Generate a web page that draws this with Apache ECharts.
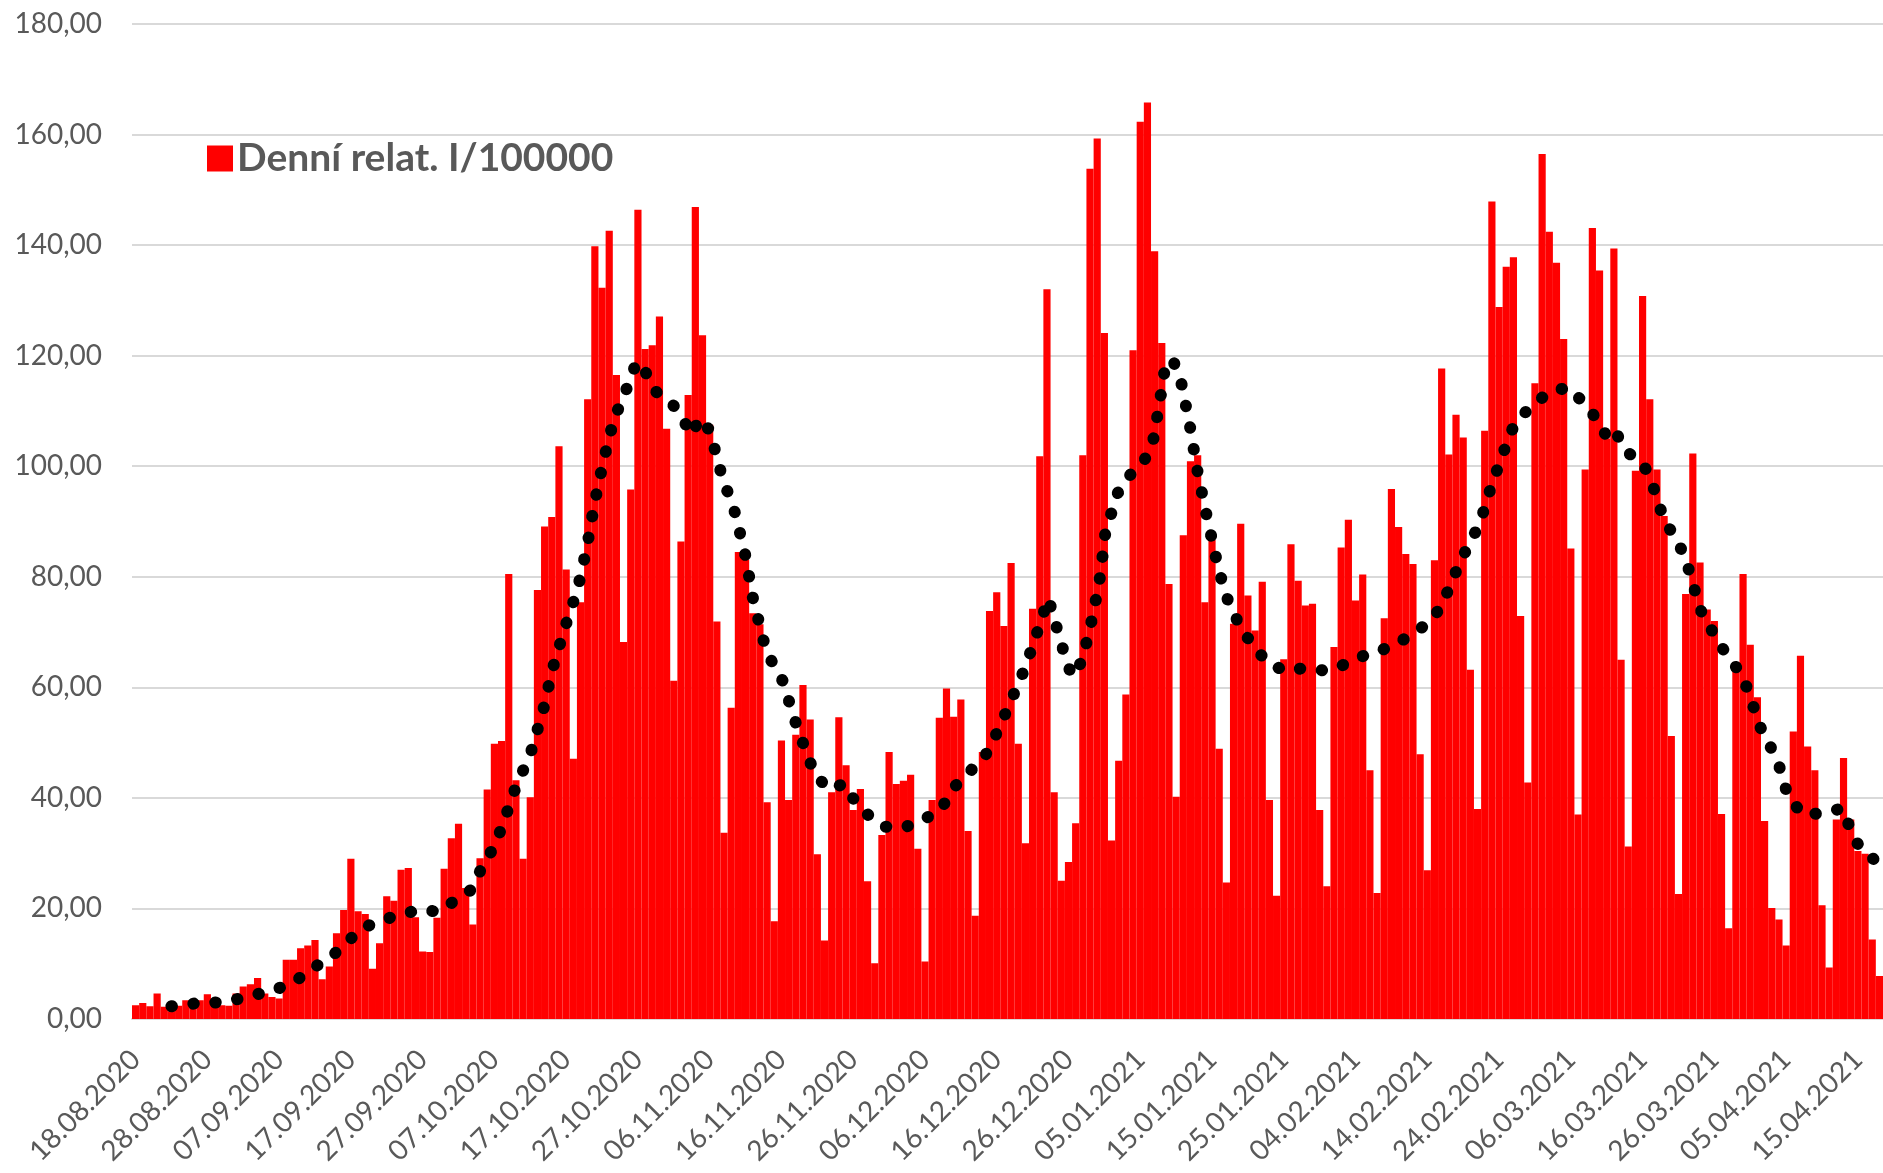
<!DOCTYPE html>
<html>
  <head>
    <meta charset="utf-8" />
    <title>Denní relat. I/100000</title>
    <script src="https://cdn.jsdelivr.net/npm/echarts@6/dist/echarts.min.js"></script>
    <style>
      html, body { margin: 0; padding: 0; background: #fff; }
    </style>
  </head>
  <body>
    <div id="main" style="width: 1883px;height:1173px;"></div>
    <script type="text/javascript">
      // denní hodnoty od 18.08.2020, jedna hodnota na den
      var dailyValues = [
        2.5, 2.9, 2.3, 4.6, 2.2, 1.4, 2.4, 3.4, 3.4, 3.4,
        4.5, 3.6, 2.5, 2.4, 4.6, 5.9, 6.3, 7.4, 4.6, 4.0,
        3.7, 10.7, 10.7, 12.8, 13.3, 14.3, 7.2, 9.5, 15.5, 19.7,
        29.0, 19.5, 19.0, 9.1, 13.7, 22.2, 21.4, 27.0, 27.3, 18.4,
        12.2, 12.1, 18.3, 27.2, 32.7, 35.3, 23.7, 17.1, 29.1, 41.5,
        49.8, 50.3, 80.5, 43.2, 29.0, 40.1, 77.6, 89.1, 90.8, 103.6,
        81.3, 47.1, 75.4, 112.1, 139.8, 132.3, 142.6, 116.5, 68.2, 95.8,
        146.4, 121.2, 121.9, 127.1, 106.8, 61.2, 86.4, 112.9, 146.9, 123.7,
        107.5, 71.9, 33.7, 56.3, 84.5, 83.1, 73.4, 71.4, 39.2, 17.7,
        50.4, 39.6, 51.4, 60.4, 54.2, 29.8, 14.2, 41.0, 54.6, 45.9,
        37.8, 41.6, 24.9, 10.1, 33.3, 48.3, 42.5, 43.1, 44.2, 30.8,
        10.4, 39.6, 54.5, 59.8, 54.7, 57.8, 34.0, 18.7, 48.3, 73.8,
        77.2, 71.1, 82.5, 49.8, 31.8, 74.2, 101.8, 132.0, 41.0, 25.0,
        28.4, 35.4, 102.0, 153.8, 159.3, 124.1, 32.3, 46.7, 58.7, 121.0,
        162.3, 165.8, 138.9, 122.3, 78.7, 40.2, 87.5, 100.9, 102.0, 75.4,
        86.7, 48.9, 24.7, 71.5, 89.6, 76.6, 70.3, 79.1, 39.6, 22.3,
        65.1, 85.9, 79.3, 74.8, 75.1, 37.8, 24.0, 67.3, 85.3, 90.3,
        75.7, 80.4, 45.0, 22.8, 72.5, 95.9, 89.0, 84.1, 82.3, 47.9,
        26.9, 83.0, 117.7, 102.1, 109.3, 105.2, 63.2, 38.0, 106.4, 147.9,
        128.8, 136.1, 137.8, 72.9, 42.8, 115.0, 156.5, 142.4, 136.8, 123.0,
        85.1, 37.0, 99.4, 143.1, 135.4, 105.0, 139.4, 65.0, 31.2, 99.2,
        130.8, 112.1, 99.4, 91.0, 51.2, 22.6, 76.9, 102.3, 82.6, 74.1,
        72.0, 37.1, 16.4, 64.5, 80.5, 67.7, 58.2, 35.8, 20.1, 18.0,
        13.3, 52.0, 65.7, 49.3, 45.0, 20.6, 9.3, 36.1, 47.2, 36.1,
        30.4, 29.9, 14.4, 7.8
      ];

      // klouzavý průměr - body (pozice = index dne)
      var trendDay = [
        5.0, 8.2, 11.2, 14.2, 17.0, 19.5, 22.4, 24.7, 27.2, 29.4,
        31.4, 34.1, 36.7, 39.6, 42.2, 44.6, 46.9, 48.2, 49.6, 50.9,
        52.8, 55.1, 56.8, 58.1, 59.8, 61.6, 62.9, 63.9, 65.1, 66.6,
        68.8, 69.8, 71.0, 72.3, 74.8, 76.3, 77.6, 78.5, 80.0, 81.6,
        83.6, 85.0, 86.0, 87.5, 88.6, 90.2, 91.8, 93.7, 94.8, 96.8,
        98.7, 99.8, 101.8, 104.3, 107.0, 109.5, 112.2, 113.7, 115.5, 117.9,
        119.4, 121.7, 124.0, 125.7, 127.2, 128.0, 129.7, 130.5, 131.9, 133.4,
        134.4, 135.1, 136.7, 138.1, 140.4, 141.7, 142.7, 143.6, 144.7, 145.7,
        146.9, 147.9, 149.1, 150.4, 151.8, 154.1, 157.6, 160.1, 163.0, 165.8,
        168.4, 171.1, 173.6, 176.5, 178.6, 180.8, 182.3, 184.6, 187.3, 189.0,
        191.0, 192.2, 194.0, 196.2, 198.0, 200.0, 201.8, 203.8, 205.2, 206.3,
        207.7, 209.9, 211.2, 213.0, 214.5, 215.9, 217.5, 218.4, 219.9, 221.5,
        223.4, 224.6, 226.4, 227.8, 228.9, 229.6, 230.6, 232.4, 234.8, 236.6,
        238.0, 238.8, 240.2, 242.4
      ];
      var trendValue = [
        2.3, 2.8, 3.0, 3.6, 4.5, 5.3, 7.0, 9.2, 11.2, 13.8,
        16.3, 17.8, 18.8, 19.8, 19.4, 21.5, 23.5, 27.3, 30.4, 34.2,
        41.3, 48.3, 55.9, 63.3, 70.7, 77.8, 85.4, 93.0, 100.4, 108.3,
        115.2, 118.9, 117.2, 113.7, 111.3, 108.3, 105.7, 108.7, 106.5, 98.7,
        91.3, 83.7, 76.3, 68.5, 64.8, 61.1, 54.3, 47.4, 43.9, 41.5,
        42.6, 40.2, 37.2, 34.8, 34.6, 35.9, 37.8, 41.3, 44.1, 46.5,
        50.0, 56.7, 63.7, 70.2, 76.1, 72.4, 64.8, 62.0, 64.8, 73.0,
        80.0, 87.6, 94.8, 97.8, 100.7, 103.9, 111.5, 119.1, 118.7, 115.2,
        107.4, 99.6, 92.0, 84.3, 77.0, 70.4, 64.6, 63.0, 63.5, 63.0,
        64.1, 65.7, 66.7, 68.5, 70.2, 72.4, 75.7, 82.8, 89.6, 96.7,
        103.9, 107.8, 110.2, 112.6, 113.9, 114.1, 111.3, 108.3, 104.8, 106.1,
        102.6, 100.9, 97.4, 90.2, 87.2, 83.7, 76.5, 72.8, 69.8, 66.3,
        63.0, 59.8, 52.8, 49.3, 46.5, 42.8, 39.6, 37.0, 37.2, 37.8,
        38.0, 34.8, 31.1, 28.7
      ];

      var yMin = 0, yMax = 180, yStep = 20;
      var seriesName = 'Denní relat. I/100000';

      function pad(n) { return (n < 10 ? '0' : '') + n; }
      var dates = [];
      var t0 = Date.UTC(2020, 7, 18);
      for (var i = 0; i < dailyValues.length; i++) {
        var d = new Date(t0 + i * 86400000);
        dates.push(pad(d.getUTCDate()) + '.' + pad(d.getUTCMonth() + 1) + '.' + d.getUTCFullYear());
      }
      var trendData = [];
      for (var j = 0; j < trendDay.length; j++) {
        trendData.push([trendDay[j], trendValue[j]]);
      }

      var myChart = echarts.init(document.getElementById('main'));
      var font = 'Lato, "Open Sans", sans-serif';
      var option = {
        animation: false,
        backgroundColor: '#ffffff',
        textStyle: { fontFamily: font },
        grid: { left: 132, right: 0, top: 24, bottom: 154 },
        legend: {
          data: [seriesName],
          left: 202,
          top: 134,
          icon: 'rect',
          itemWidth: 24,
          itemHeight: 24,
          itemGap: 10,
          textStyle: { fontSize: 39, fontWeight: 'bold', color: '#595959', fontFamily: font }
        },
        xAxis: [{
          type: 'category',
          data: dates,
          boundaryGap: true,
          axisLine: { show: true, lineStyle: { color: '#d9d9d9', width: 2 } },
          axisTick: { show: false },
          axisLabel: {
            interval: 9,
            rotate: 45,
            margin: 36,
            fontSize: 28,
            color: '#595959',
            fontFamily: font
          },
          splitLine: { show: false }
        }, {
          type: 'value',
          min: -0.5,
          max: dailyValues.length - 0.5,
          show: false
        }],
        yAxis: {
          type: 'value',
          min: yMin,
          max: yMax,
          interval: yStep,
          axisLine: { show: false },
          axisTick: { show: false },
          axisLabel: {
            margin: 30,
            fontSize: 28,
            color: '#595959',
            fontFamily: font,
            formatter: function (v) { return v.toFixed(2).replace('.', ','); }
          },
          splitLine: { lineStyle: { color: '#d9d9d9', width: 2 } }
        },
        series: [{
          name: seriesName,
          type: 'bar',
          data: dailyValues,
          barCategoryGap: '0%',
          itemStyle: { color: '#ff0000', borderColor: '#ff0000', borderWidth: 1.6 }
        }, {
          name: 'trend',
          type: 'line',
          xAxisIndex: 1,
          data: trendData,
          symbol: 'none',
          silent: true,
          z: 5,
          lineStyle: { color: '#000000', width: 12, type: [0.5, 21.5], cap: 'round' }
        }]
      };
      myChart.setOption(option);
    </script>
  </body>
</html>
